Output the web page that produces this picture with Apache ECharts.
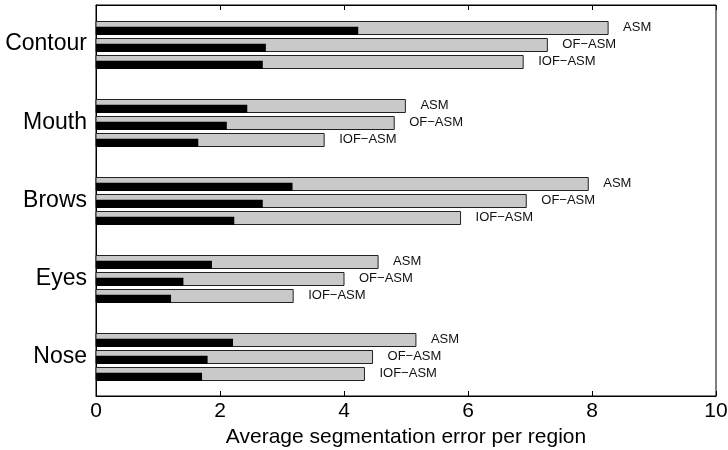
<!DOCTYPE html>
<html>
<head>
<meta charset="utf-8">
<script src="https://cdn.jsdelivr.net/npm/echarts@6/dist/echarts.min.js"></script>
<style>
html,body{margin:0;padding:0;background:#fff;}
#main{width:728px;height:450px;}
</style>
</head>
<body>
<div id="main"></div>
<script>
const categories = ['Contour', 'Mouth', 'Brows', 'Eyes', 'Nose'];
const methods = ['ASM', 'OF\u2212ASM', 'IOF\u2212ASM'];
const xTicks = [0, 2, 4, 6, 8, 10];
const asmTotal = [8.26, 4.99, 7.94, 4.55, 5.16];
const asmBlack = [4.23, 2.44, 3.17, 1.87, 2.21];
const ofTotal  = [7.28, 4.81, 6.94, 4.00, 4.46];
const ofBlack  = [2.74, 2.11, 2.69, 1.41, 1.80];
const iofTotal = [6.89, 3.68, 5.88, 3.18, 4.33];
const iofBlack = [2.69, 1.65, 2.23, 1.21, 1.71];

const totals = [asmTotal, ofTotal, iofTotal];
const blacks = [asmBlack, ofBlack, iofBlack];
const data = [];
categories.forEach((c, ci) => {
  methods.forEach((m, mi) => {
    data.push([totals[mi][ci], ci, mi, blacks[mi][ci]]);
  });
});

const FONT = 'Liberation Sans, Arial, Helvetica, sans-serif';
const chart = echarts.init(document.getElementById('main'), null, {renderer: 'canvas'});
chart.setOption({
  animation: false,
  backgroundColor: '#fff',
  grid: {left: 96, right: 12, top: 5, bottom: 54, show: true, borderColor: '#000', borderWidth: 1,
         containLabel: false, outerBoundsMode: 'none'},
  xAxis: [{
    type: 'value', min: xTicks[0], max: xTicks[xTicks.length - 1], interval: 2,
    position: 'bottom',
    name: 'Average segmentation error per region',
    nameLocation: 'middle', nameGap: 30,
    nameTextStyle: {fontFamily: FONT, fontSize: 21, color: '#000'},
    axisLine: {show: true, lineStyle: {color: '#000', width: 1}},
    axisTick: {show: true, inside: true, length: 5, lineStyle: {color: '#000'}},
    axisLabel: {fontFamily: FONT, fontSize: 21, color: '#000', margin: 5},
    splitLine: {show: false}
  }, {
    type: 'value', min: xTicks[0], max: xTicks[xTicks.length - 1], interval: 2,
    position: 'top',
    axisLine: {show: true, lineStyle: {color: '#000', width: 1}},
    axisTick: {show: true, inside: true, length: 5, lineStyle: {color: '#000'}},
    axisLabel: {show: false},
    splitLine: {show: false}
  }],
  yAxis: {
    type: 'category', data: categories, inverse: true,
    axisLine: {show: true, lineStyle: {color: '#000', width: 1}},
    axisTick: {show: false},
    axisLabel: {fontFamily: FONT, fontSize: 23, color: '#000', margin: 9},
    splitLine: {show: false}
  },
  series: [{
    type: 'custom',
    xAxisIndex: 0,
    encode: {x: 0, y: 1},
    data: data,
    renderItem: function (params, api) {
      const total = api.value(0);
      const cat = api.value(1);
      const mi = api.value(2);
      const blk = api.value(3);
      const band = api.size([0, 1])[1];
      const base = api.coord([0, cat]);
      const x0 = base[0];
      const x1 = api.coord([total, cat])[0];
      const xb = api.coord([blk, cat])[0];
      const cy = base[1] + (mi - 1) * 0.2175 * band;
      const gh = 0.166 * band;
      const bh = 0.1 * band;
      const top = Math.round(cy - gh / 2) + 0.5;
      const bot = Math.round(cy + gh / 2) + 0.5;
      return {
        type: 'group',
        children: [{
          type: 'rect',
          shape: {x: x0, y: top, width: x1 - x0, height: bot - top},
          style: {fill: '#c9c9c9', stroke: '#222', lineWidth: 1}
        }, {
          type: 'rect',
          shape: {x: x0, y: bot - bh, width: xb - x0, height: bh + 0.5},
          style: {fill: '#000'}
        }, {
          type: 'text',
          style: {
            x: x1 + 15, y: cy,
            text: methods[mi],
            fill: '#111',
            font: '13px ' + FONT,
            textAlign: 'left', textVerticalAlign: 'middle'
          }
        }]
      };
    }
  }]
});
</script>
</body>
</html>
